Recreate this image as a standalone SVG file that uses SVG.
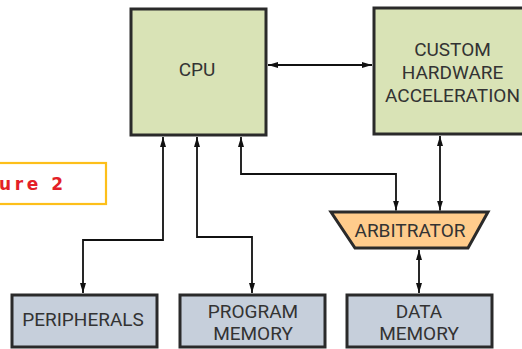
<svg xmlns="http://www.w3.org/2000/svg" width="522" height="349" viewBox="0 0 522 349">
<defs>
<marker id="ah" viewBox="0 0 10 6" refX="10" refY="3" markerWidth="10" markerHeight="6" markerUnits="userSpaceOnUse" orient="auto-start-reverse">
<path d="M0,0 L10,3 L0,6 Z" fill="#111"/>
</marker>
<style>
.box{stroke:#2a2a2a;stroke-width:3}
.green{fill:#d9e3b6}
.blue{fill:#c6cfdb}
.orange{fill:#ffcc8c}
.lbl{font-family:Roboto,"Liberation Sans",Arial,sans-serif;font-size:19px;fill:#333;text-anchor:middle}
.wire{fill:none;stroke:#111;stroke-width:1.8}
</style>
</defs>
<rect width="522" height="349" fill="#fff"/>
<g id="figure-label">
<rect x="-5" y="163" width="111" height="41" fill="#fff" stroke="#fdbf1a" stroke-width="2.2"/>
<text x="-1" y="190" font-family="'DejaVu Sans',sans-serif" font-size="17" font-weight="bold" fill="#e31f28" letter-spacing="3.6">ure 2</text>
</g>
<g id="cpu">
<rect class="box green" x="131" y="9" width="135" height="126"/>
<text class="lbl" x="197" y="76">CPU</text>
</g>
<g id="custom-hw">
<rect class="box green" x="374" y="8" width="160" height="126"/>
<text class="lbl" x="452.5" y="56">CUSTOM</text>
<text class="lbl" x="452.5" y="79">HARDWARE</text>
<text class="lbl" x="452.5" y="102">ACCELERATION</text>
</g>
<g id="arbitrator">
<polygon class="box orange" points="331,212 488,212 468,248 355,248"/>
<text class="lbl" x="410" y="237">ARBITRATOR</text>
</g>
<g id="peripherals">
<rect class="box blue" x="12" y="295" width="145" height="52"/>
<text class="lbl" x="83" y="326">PERIPHERALS</text>
</g>
<g id="program-memory">
<rect class="box blue" x="180" y="295" width="145" height="52"/>
<text class="lbl" x="253" y="318">PROGRAM</text>
<text class="lbl" x="253" y="340">MEMORY</text>
</g>
<g id="data-memory">
<rect class="box blue" x="347" y="295" width="145" height="52"/>
<text class="lbl" x="419" y="318">DATA</text>
<text class="lbl" x="419" y="340">MEMORY</text>
</g>
<g id="connectors">
<path class="wire" d="M268,65 L372,65" marker-start="url(#ah)" marker-end="url(#ah)"/>
<path class="wire" d="M83,293 L83,240 L163,240 L163,137" marker-start="url(#ah)" marker-end="url(#ah)"/>
<path class="wire" d="M197,137 L197,237 L252,237 L252,293" marker-start="url(#ah)" marker-end="url(#ah)"/>
<path class="wire" d="M241,137 L241,174 L396,174 L396,210.5" marker-start="url(#ah)" marker-end="url(#ah)"/>
<path class="wire" d="M440,136 L440,210.5" marker-start="url(#ah)" marker-end="url(#ah)"/>
<path class="wire" d="M419,250 L419,293" marker-start="url(#ah)" marker-end="url(#ah)"/>
</g>
</svg>
